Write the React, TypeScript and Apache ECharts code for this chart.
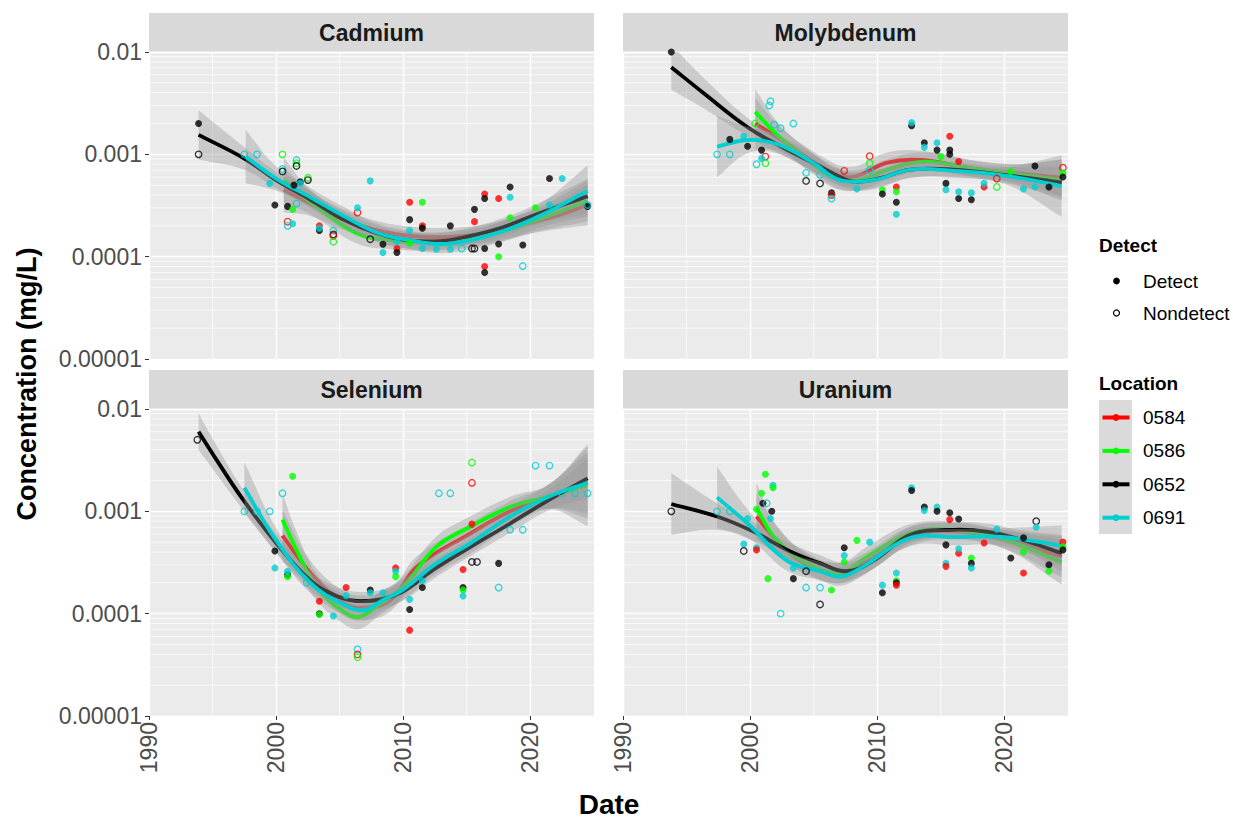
import React, { useEffect, useRef } from "react";
import * as echarts from "echarts";

const FONT = '"Liberation Sans", Arial, Helvetica, sans-serif';
const PANELS = ["Cadmium", "Molybdenum", "Selenium", "Uranium"];
const LOCATIONS = ["0584", "0586", "0652", "0691"];
const LOC_COLORS = ["#FF0000", "#00FF00", "#000000", "#00CED1"];
const DETECT_LABELS = ["Detect", "Nondetect"];
const X_MIN = 1990;
const X_MAX = 2025;
const X_INTERVAL = 10;
const X_TICKS = [1990, 2000, 2010, 2020];
const X_MINOR = [1995, 2005, 2015];
const Y_MIN = 0.00001;
const Y_MAX = 0.01;
const Y_DECADES = [0.00001, 0.0001, 0.001];
const Y_MINOR_MULT = [2, 3, 4, 5, 6, 7, 8, 9];

// points: [year, value (mg/L), location index, detect 1 / nondetect 0]
const cadmiumPoints = [
  [1993.9, 0.002, 2, 1], [1993.9, 0.001, 2, 0], [1997.5, 0.001, 3, 0], [1998.5, 0.001, 3, 0],
  [2000.5, 0.001, 1, 0], [2001.6, 0.00088, 3, 0], [2001.6, 0.00082, 1, 0], [2001.6, 0.00077, 2, 0],
  [2000.5, 0.00072, 3, 0], [2000.5, 0.00068, 2, 0], [2001.9, 0.00054, 2, 1], [2001.9, 0.00052, 3, 1],
  [2002.5, 0.00059, 1, 0], [2002.5, 0.00056, 2, 0], [1999.5, 0.00052, 3, 1], [1999.9, 0.00032, 2, 1],
  [2000.9, 0.00031, 2, 1], [2001.3, 0.00029, 1, 1], [2001.4, 0.0005, 2, 1], [2001.6, 0.00033, 3, 0],
  [2000.9, 0.00022, 0, 0], [2000.9, 0.0002, 3, 0], [2001.3, 0.00021, 3, 1], [2003.4, 0.0002, 0, 1],
  [2003.4, 0.00018, 2, 1], [2003.4, 0.00019, 3, 1], [2004.5, 0.00018, 3, 0], [2004.5, 0.000165, 2, 0],
  [2004.5, 0.00016, 0, 0], [2004.5, 0.00014, 1, 0], [2006.4, 0.00027, 0, 0], [2006.4, 0.0003, 3, 1],
  [2007.4, 0.000148, 2, 0], [2007.4, 0.00055, 3, 1], [2008.4, 0.000132, 2, 1], [2008.4, 0.00011, 3, 1],
  [2009.5, 0.00012, 0, 1], [2009.5, 0.00011, 2, 1], [2009.5, 0.00014, 3, 1], [2010.5, 0.00034, 0, 1],
  [2011.5, 0.00034, 1, 1], [2010.5, 0.00023, 2, 1], [2010.5, 0.00018, 3, 1], [2011.5, 0.0002, 0, 1],
  [2011.5, 0.00019, 2, 1], [2011.5, 0.00012, 3, 1], [2010.5, 0.000135, 1, 1], [2012.6, 0.000118, 3, 1],
  [2013.7, 0.000118, 3, 1], [2013.7, 0.0002, 2, 1], [2014.6, 0.00012, 3, 0], [2015.4, 0.00012, 2, 0],
  [2015.6, 0.00012, 2, 0], [2015.6, 0.00029, 2, 1], [2015.6, 0.00022, 0, 1], [2016.4, 0.00041, 0, 1],
  [2016.4, 0.00037, 2, 1], [2016.4, 0.00008, 0, 1], [2016.4, 0.00007, 2, 1], [2016.4, 0.00012, 2, 1],
  [2017.5, 0.00037, 0, 1], [2017.5, 0.0001, 1, 1], [2017.5, 0.000133, 2, 1], [2018.4, 0.00048, 2, 1],
  [2018.4, 0.00038, 3, 1], [2018.4, 0.00024, 1, 1], [2019.4, 0.00013, 2, 1], [2019.4, 0.000081, 3, 0],
  [2020.4, 0.0003, 1, 1], [2021.5, 0.00032, 3, 1], [2021.5, 0.00058, 2, 1], [2022.5, 0.00058, 3, 1],
  [2024.5, 0.00031, 2, 1], [2024.5, 0.00032, 3, 0],
];

const molybdenumPoints = [
  [1993.8, 0.01, 2, 1], [1997.4, 0.001, 3, 0], [1998.4, 0.001, 3, 0], [1998.4, 0.0014, 2, 1],
  [1999.5, 0.0015, 3, 1], [1999.8, 0.0012, 2, 1], [2000.4, 0.002, 1, 0], [2000.5, 0.0008, 3, 0],
  [2000.9, 0.0011, 2, 1], [2001.2, 0.00095, 0, 0], [2001.2, 0.00082, 1, 0], [2000.9, 0.00091, 3, 1],
  [2001.5, 0.003, 3, 0], [2001.6, 0.0033, 3, 0], [2001.9, 0.00195, 3, 0], [2002.4, 0.0018, 3, 0],
  [2003.4, 0.002, 3, 0], [2004.4, 0.00055, 2, 0], [2004.4, 0.00066, 3, 0], [2005.5, 0.00052, 2, 0],
  [2005.5, 0.00063, 3, 0], [2006.4, 0.00042, 2, 1], [2006.4, 0.0004, 0, 0], [2006.4, 0.00037, 3, 0],
  [2007.4, 0.00069, 0, 0], [2008.4, 0.00046, 3, 1], [2009.4, 0.00096, 0, 0], [2009.4, 0.00082, 1, 0],
  [2009.4, 0.0007, 3, 0], [2010.4, 0.00045, 1, 1], [2010.4, 0.00041, 2, 1], [2011.5, 0.00048, 0, 1],
  [2011.5, 0.00043, 1, 1], [2011.5, 0.00034, 2, 1], [2011.5, 0.00026, 3, 1], [2012.7, 0.0019, 2, 1],
  [2012.7, 0.00204, 3, 1], [2013.7, 0.0013, 2, 1], [2013.7, 0.00117, 3, 1], [2014.7, 0.0013, 3, 1],
  [2014.7, 0.0011, 2, 1], [2015.7, 0.0015, 0, 1], [2015.7, 0.0011, 2, 1], [2015.7, 0.001, 2, 1],
  [2015.0, 0.00095, 1, 1], [2016.4, 0.00085, 0, 1], [2015.4, 0.00052, 2, 1], [2015.4, 0.00045, 3, 1],
  [2016.4, 0.00037, 2, 1], [2016.4, 0.00043, 3, 1], [2017.4, 0.00042, 3, 1], [2017.4, 0.00036, 2, 1],
  [2018.4, 0.00048, 0, 1], [2018.4, 0.00052, 3, 1], [2019.4, 0.00048, 1, 0], [2019.4, 0.00058, 0, 0],
  [2020.5, 0.00068, 1, 1], [2021.5, 0.00046, 3, 1], [2022.4, 0.00077, 2, 1], [2022.4, 0.00048, 3, 1],
  [2023.5, 0.00048, 2, 1], [2024.6, 0.00074, 0, 0], [2024.6, 0.00066, 1, 1], [2024.6, 0.0006, 2, 1],
];

const seleniumPoints = [
  [1993.8, 0.005, 2, 0], [1997.5, 0.001, 3, 0], [1998.5, 0.001, 3, 0], [1999.5, 0.001, 3, 0],
  [2000.5, 0.0015, 3, 0], [2001.3, 0.0022, 1, 1], [1999.9, 0.00041, 2, 1], [1999.9, 0.00028, 3, 1],
  [2000.9, 0.00024, 2, 1], [2000.9, 0.00023, 1, 1], [2000.9, 0.00026, 3, 1], [2002.4, 0.0002, 3, 0],
  [2003.4, 0.000132, 0, 1], [2003.4, 0.0001, 2, 1], [2003.4, 0.000098, 1, 1], [2004.5, 0.000095, 3, 1],
  [2005.5, 0.00018, 0, 1], [2005.5, 0.00015, 3, 1], [2006.4, 0.000045, 3, 0], [2006.4, 0.00004, 0, 0],
  [2006.4, 0.0000376, 1, 0], [2007.4, 0.00017, 2, 1], [2007.4, 0.00016, 3, 1], [2008.4, 0.00016, 3, 1],
  [2009.4, 0.00028, 0, 1], [2009.4, 0.00026, 3, 1], [2009.4, 0.00023, 1, 1], [2010.5, 0.000138, 3, 1],
  [2010.5, 0.00011, 2, 1], [2010.5, 0.000069, 0, 1], [2011.5, 0.00018, 2, 1], [2011.5, 0.00021, 3, 1],
  [2012.8, 0.0015, 3, 0], [2013.7, 0.0015, 3, 0], [2014.7, 0.00027, 0, 1], [2014.7, 0.00018, 2, 1],
  [2014.7, 0.00017, 1, 1], [2014.7, 0.000149, 3, 1], [2015.4, 0.003, 1, 0], [2015.4, 0.0019, 0, 0],
  [2015.4, 0.00075, 0, 1], [2015.4, 0.00032, 2, 0], [2015.8, 0.00032, 2, 0], [2017.5, 0.00031, 2, 1],
  [2017.5, 0.00018, 3, 0], [2018.4, 0.00066, 3, 0], [2019.4, 0.00066, 3, 0], [2020.4, 0.0028, 3, 0],
  [2021.5, 0.0028, 3, 0], [2022.5, 0.0015, 3, 0], [2023.5, 0.0015, 3, 0], [2024.5, 0.0015, 3, 0],
];

const uraniumPoints = [
  [1993.8, 0.001, 2, 0], [1997.4, 0.001, 3, 0], [1998.4, 0.001, 3, 0], [1999.8, 0.00085, 3, 1],
  [1999.5, 0.00048, 3, 1], [1999.5, 0.00041, 2, 0], [2000.5, 0.00044, 3, 1], [2000.5, 0.00042, 0, 1],
  [2001.2, 0.0023, 1, 1], [2001.8, 0.0018, 3, 1], [2001.8, 0.0017, 1, 1], [2000.9, 0.0015, 1, 1],
  [2001.0, 0.0012, 2, 1], [2001.3, 0.0012, 3, 0], [2001.7, 0.001, 2, 1], [2000.5, 0.00105, 1, 1],
  [2001.6, 0.00085, 3, 1], [2001.4, 0.00022, 1, 1], [2003.4, 0.00022, 2, 1], [2003.4, 0.00028, 3, 1],
  [2004.4, 0.00026, 2, 0], [2004.4, 0.00018, 3, 0], [2005.5, 0.000123, 2, 0], [2005.5, 0.00018, 3, 0],
  [2002.4, 0.0001, 3, 0], [2006.4, 0.00017, 1, 1], [2007.4, 0.00044, 2, 1], [2007.4, 0.00037, 3, 1],
  [2007.4, 0.00032, 1, 1], [2008.4, 0.00052, 1, 1], [2009.4, 0.0005, 3, 1], [2010.4, 0.00019, 3, 1],
  [2010.4, 0.00016, 2, 1], [2011.5, 0.00025, 3, 1], [2011.5, 0.00021, 1, 1], [2011.5, 0.0002, 2, 1],
  [2011.5, 0.00019, 0, 1], [2012.7, 0.0017, 3, 1], [2012.7, 0.0016, 2, 1], [2013.7, 0.0011, 2, 1],
  [2013.7, 0.00102, 3, 1], [2014.7, 0.0011, 3, 1], [2014.7, 0.001, 2, 1], [2015.7, 0.00097, 2, 1],
  [2015.7, 0.00083, 0, 1], [2016.4, 0.00084, 2, 1], [2015.4, 0.00047, 2, 1], [2015.4, 0.00031, 3, 1],
  [2015.4, 0.00029, 0, 1], [2016.4, 0.00039, 0, 1], [2016.4, 0.00043, 3, 1], [2017.4, 0.00035, 1, 1],
  [2017.4, 0.00031, 2, 1], [2017.4, 0.00028, 3, 1], [2018.4, 0.00049, 0, 1], [2019.4, 0.00067, 3, 1],
  [2020.5, 0.00035, 2, 1], [2021.5, 0.00025, 0, 1], [2021.5, 0.0004, 1, 1], [2021.5, 0.00055, 2, 1],
  [2022.5, 0.0008, 2, 0], [2022.5, 0.0007, 3, 1], [2023.5, 0.0003, 2, 1], [2023.5, 0.00026, 1, 1],
  [2024.6, 0.0005, 0, 1], [2024.6, 0.00045, 1, 1], [2024.6, 0.00042, 2, 1],
];

// smooth fits: [year, fitted value, half-width of the band in log10 units]
const cadmiumFit0584 = [[2000.6, 0.00045, 0.22], [2002.7, 0.00033, 0.12], [2005.3, 0.00023, 0.1], [2008, 0.00018, 0.09], [2010.5, 0.00016, 0.09], [2013, 0.000155, 0.09], [2016, 0.000165, 0.09], [2019, 0.0002, 0.1], [2022, 0.00025, 0.13], [2024.5, 0.00032, 0.2]];
const cadmiumFit0586 = [[2000.6, 0.00056, 0.22], [2002.7, 0.00034, 0.12], [2006.3, 0.00017, 0.1], [2009, 0.000145, 0.09], [2012, 0.00014, 0.09], [2015, 0.00015, 0.09], [2018, 0.00018, 0.1], [2021, 0.00024, 0.12], [2024.5, 0.00035, 0.2]];
const cadmiumFit0652 = [[1993.9, 0.00155, 0.24], [1997.5, 0.00091, 0.11], [2000, 0.00056, 0.08], [2002.7, 0.00036, 0.08], [2005.3, 0.00023, 0.08], [2007.9, 0.00017, 0.08], [2010.3, 0.000145, 0.08], [2012.9, 0.000142, 0.08], [2015.3, 0.00016, 0.08], [2017.9, 0.000195, 0.09], [2020.5, 0.00026, 0.1], [2024.5, 0.00039, 0.17]];
const cadmiumFit0691 = [[1997.6, 0.00095, 0.26], [2000, 0.00058, 0.12], [2002.7, 0.00038, 0.09], [2005.3, 0.00025, 0.09], [2008, 0.00017, 0.09], [2010.5, 0.000145, 0.09], [2012.9, 0.000133, 0.09], [2015.3, 0.000145, 0.09], [2018, 0.00018, 0.1], [2021, 0.00026, 0.12], [2024.5, 0.00044, 0.25]];

const molybdenumFit0584 = [[2000.4, 0.002, 0.25], [2002.4, 0.0014, 0.12], [2005.6, 0.00076, 0.1], [2007.9, 0.0006, 0.1], [2010.8, 0.00083, 0.1], [2013.4, 0.00088, 0.09], [2017.4, 0.00073, 0.08], [2021, 0.00065, 0.09], [2024.5, 0.00059, 0.18]];
const molybdenumFit0586 = [[2000.4, 0.0026, 0.22], [2002.4, 0.00144, 0.12], [2005, 0.0008, 0.1], [2006.6, 0.00059, 0.1], [2008.6, 0.00056, 0.1], [2010.8, 0.00071, 0.1], [2013.7, 0.00085, 0.09], [2017.4, 0.00073, 0.08], [2021, 0.00064, 0.1], [2024.5, 0.00056, 0.2]];
const molybdenumFit0652 = [[1993.8, 0.0071, 0.22], [1996.3, 0.004, 0.15], [1999.8, 0.00184, 0.09], [2002.4, 0.0012, 0.08], [2005, 0.00082, 0.08], [2007.6, 0.00056, 0.08], [2008.6, 0.00054, 0.08], [2010.3, 0.00059, 0.08], [2012.6, 0.00071, 0.08], [2016, 0.00071, 0.07], [2020, 0.00063, 0.08], [2024.5, 0.00053, 0.15]];
const molybdenumFit0691 = [[1997.4, 0.00119, 0.3], [1999.8, 0.00138, 0.13], [2002.1, 0.00126, 0.09], [2005, 0.00082, 0.09], [2006.6, 0.00059, 0.09], [2007.9, 0.00054, 0.09], [2010, 0.00057, 0.09], [2012.6, 0.00071, 0.08], [2016, 0.00069, 0.07], [2020, 0.00062, 0.08], [2024.5, 0.00049, 0.3]];

const seleniumFit0584 = [[2000.5, 0.00058, 0.25], [2002.7, 0.00025, 0.12], [2005.3, 0.000126, 0.12], [2006.9, 0.000114, 0.12], [2009, 0.000136, 0.11], [2011.1, 0.00029, 0.1], [2015.3, 0.00061, 0.1], [2018.4, 0.001, 0.1], [2021.5, 0.0014, 0.12], [2024.5, 0.0019, 0.35]];
const seleniumFit0586 = [[2000.5, 0.00083, 0.25], [2001.6, 0.00042, 0.18], [2003.2, 0.00018, 0.13], [2005.3, 0.000105, 0.12], [2006.5, 0.000093, 0.12], [2007.9, 0.000118, 0.11], [2010, 0.000184, 0.1], [2012.6, 0.00045, 0.1], [2015.3, 0.00071, 0.1], [2018.4, 0.0011, 0.1], [2021.5, 0.0014, 0.12], [2024.5, 0.0018, 0.4]];
const seleniumFit0652 = [[1993.9, 0.006, 0.18], [1995.3, 0.0032, 0.14], [1997.4, 0.0013, 0.1], [2000, 0.00049, 0.09], [2002.7, 0.00021, 0.09], [2004.8, 0.000148, 0.09], [2006.3, 0.000133, 0.09], [2008.2, 0.000138, 0.09], [2010, 0.000165, 0.09], [2012.4, 0.00027, 0.09], [2015.3, 0.00045, 0.09], [2018.4, 0.00076, 0.09], [2021.5, 0.0013, 0.1], [2024.5, 0.0021, 0.2]];
const seleniumFit0691 = [[1997.5, 0.0017, 0.25], [2000, 0.00052, 0.12], [2002.7, 0.0002, 0.1], [2005.3, 0.000123, 0.1], [2006.9, 0.000108, 0.1], [2008.4, 0.000136, 0.1], [2010, 0.000172, 0.1], [2012.6, 0.00031, 0.1], [2015.3, 0.00049, 0.1], [2018.4, 0.00089, 0.1], [2021.5, 0.0014, 0.12], [2024.5, 0.0019, 0.3]];

const uraniumFit0584 = [[2000.5, 0.00089, 0.22], [2002.1, 0.00052, 0.14], [2004.5, 0.0003, 0.1], [2007.1, 0.00025, 0.1], [2009.2, 0.00032, 0.1], [2012.6, 0.00057, 0.09], [2016, 0.00064, 0.08], [2020, 0.00053, 0.09], [2024.5, 0.00036, 0.2]];
const uraniumFit0586 = [[2000.5, 0.00107, 0.25], [2002.1, 0.00052, 0.14], [2004.5, 0.00031, 0.1], [2007.1, 0.00025, 0.1], [2009.2, 0.00036, 0.1], [2012.6, 0.00061, 0.09], [2016, 0.00066, 0.08], [2020, 0.00053, 0.09], [2024.5, 0.00032, 0.22]];
const uraniumFit0652 = [[1993.8, 0.00118, 0.3], [1997.4, 0.00089, 0.13], [2000.3, 0.00063, 0.09], [2002.9, 0.00042, 0.08], [2005.5, 0.00031, 0.08], [2007.6, 0.00026, 0.08], [2009.7, 0.00033, 0.08], [2012.6, 0.00059, 0.08], [2016, 0.00066, 0.07], [2018.7, 0.00063, 0.08], [2021.3, 0.00053, 0.09], [2024.5, 0.00039, 0.18]];
const uraniumFit0691 = [[1997.4, 0.00137, 0.3], [1999.8, 0.00076, 0.14], [2002.9, 0.00033, 0.1], [2005.5, 0.00026, 0.09], [2007.1, 0.00023, 0.09], [2008.7, 0.00028, 0.09], [2012.6, 0.00055, 0.08], [2016, 0.00056, 0.08], [2020, 0.00056, 0.09], [2024.5, 0.00046, 0.2]];

const PANEL_POINTS = [cadmiumPoints, molybdenumPoints, seleniumPoints, uraniumPoints];
const PANEL_FITS = [
  [cadmiumFit0584, cadmiumFit0586, cadmiumFit0652, cadmiumFit0691],
  [molybdenumFit0584, molybdenumFit0586, molybdenumFit0652, molybdenumFit0691],
  [seleniumFit0584, seleniumFit0586, seleniumFit0652, seleniumFit0691],
  [uraniumFit0584, uraniumFit0586, uraniumFit0652, uraniumFit0691],
];

// layout
const PANEL_W = 445;
const PANEL_H = 307;
const PANEL_POS = [
  [149, 52],
  [623, 52],
  [149, 409],
  [623, 409],
];
const STRIP_H = 39;
const BAND_FILL = "rgba(153,153,153,0.4)";
const SMOOTH = 0.4;

function logLabel(v: number) {
  const e = Math.round(Math.log10(v));
  return e < 0 ? Math.pow(10, e).toFixed(-e) : String(Math.pow(10, e));
}

// smooth path through pixel points (same scheme as ECharts' smoothed lines)
function smoothSegments(pts: number[][], s: number, start: "M" | "L") {
  const n = pts.length;
  const cpIn: number[][] = [];
  const cpOut: number[][] = [];
  for (let i = 0; i < n; i++) {
    const p = pts[i];
    const prev = pts[i - 1] || p;
    const next = pts[i + 1] || p;
    const vx = next[0] - prev[0];
    const vy = next[1] - prev[1];
    const dPrev = Math.hypot(p[0] - prev[0], p[1] - prev[1]);
    const dNext = Math.hypot(p[0] - next[0], p[1] - next[1]);
    const tot = dPrev + dNext || 1;
    cpIn.push([p[0] - (vx * s * dPrev) / tot, p[1] - (vy * s * dPrev) / tot]);
    cpOut.push([p[0] + (vx * s * dNext) / tot, p[1] + (vy * s * dNext) / tot]);
  }
  let d = `${start}${pts[0][0]},${pts[0][1]}`;
  for (let i = 0; i < n - 1; i++) {
    d += `C${cpOut[i][0]},${cpOut[i][1]} ${cpIn[i + 1][0]},${cpIn[i + 1][1]} ${pts[i + 1][0]},${pts[i + 1][1]}`;
  }
  return d;
}

function buildOption() {
  const grids: any[] = [];
  const xAxes: any[] = [];
  const yAxes: any[] = [];
  const series: any[] = [];
  const graphics: any[] = [];

  const minorData: any[] = [];
  Y_DECADES.forEach((d) => Y_MINOR_MULT.forEach((m) => minorData.push([X_MIN, d * m, 0])));
  X_MINOR.forEach((x) => minorData.push([x, Y_MIN, 1]));

  PANELS.forEach((name, g) => {
    const [left, top] = PANEL_POS[g];
    const bottomRow = g >= 2;
    const leftCol = g % 2 === 0;
    grids.push({
      left, top, width: PANEL_W, height: PANEL_H,
      show: true, backgroundColor: "#EBEBEB", borderWidth: 0, containLabel: false,
    });
    xAxes.push({
      type: "value", gridIndex: g, min: X_MIN, max: X_MAX, interval: X_INTERVAL,
      axisLine: { show: false },
      axisTick: { show: bottomRow, length: 4, lineStyle: { color: "#333333", width: 1 }, customValues: X_TICKS },
      axisLabel: {
        show: bottomRow, rotate: 90, fontSize: 23, color: "#4D4D4D", fontFamily: FONT, margin: 6,
        customValues: X_TICKS, formatter: (v: number) => String(v),
      },
      splitLine: { show: true, lineStyle: { color: "#FFFFFF", width: 1.4 } },
    });
    yAxes.push({
      type: "log", logBase: 10, gridIndex: g, min: Y_MIN, max: Y_MAX,
      axisLine: { show: false },
      axisTick: { show: leftCol, length: 4, lineStyle: { color: "#333333", width: 1 } },
      axisLabel: { show: leftCol, fontSize: 23, color: "#4D4D4D", fontFamily: FONT, margin: 7, formatter: logLabel },
      splitLine: { show: true, lineStyle: { color: "#FFFFFF", width: 1.4 } },
    });

    // minor grid lines
    series.push({
      type: "custom", xAxisIndex: g, yAxisIndex: g, silent: true,
      data: minorData, encode: { x: 0, y: 1 },
      renderItem: (params: any, api: any) => {
        const kind = api.value(2);
        let p1, p2;
        if (kind === 0) {
          p1 = api.coord([X_MIN, api.value(1)]);
          p2 = api.coord([X_MAX, api.value(1)]);
        } else {
          p1 = api.coord([api.value(0), Y_MIN]);
          p2 = api.coord([api.value(0), Y_MAX]);
        }
        return {
          type: "line",
          shape: { x1: p1[0], y1: p1[1], x2: p2[0], y2: p2[1] },
          style: { stroke: "#FFFFFF", lineWidth: 0.7 },
          silent: true,
        };
      },
    });

    // points
    series.push({
      type: "scatter", xAxisIndex: g, yAxisIndex: g, silent: true,
      data: PANEL_POINTS[g].map((p) => {
        const c = LOC_COLORS[p[2]];
        return p[3]
          ? { value: [p[0], p[1]], symbolSize: 7, itemStyle: { color: c, borderWidth: 0 } }
          : { value: [p[0], p[1]], symbolSize: 6.5, itemStyle: { color: "rgba(0,0,0,0)", borderColor: c, borderWidth: 1.3 } };
      }),
    });

    // smooth band + line per location (band drawn then line, in location order)
    PANEL_FITS[g].forEach((fit, l) => {
      series.push({
        type: "custom", xAxisIndex: g, yAxisIndex: g, silent: true,
        data: [[fit[0][0], fit[0][1]]], encode: { x: 0, y: 1 },
        renderItem: (params: any, api: any) => {
          const upper = fit.map((k) => api.coord([k[0], k[1] * Math.pow(10, k[2])]));
          const lower = fit.map((k) => api.coord([k[0], k[1] / Math.pow(10, k[2])])).reverse();
          const mid = fit.map((k) => api.coord([k[0], k[1]]));
          const bandPath = smoothSegments(upper, SMOOTH, "M") + smoothSegments(lower, SMOOTH, "L") + "Z";
          const linePath = smoothSegments(mid, SMOOTH, "M");
          const cs = params.coordSys;
          return {
            type: "group",
            clipPath: { type: "rect", shape: { x: cs.x, y: cs.y, width: cs.width, height: cs.height } },
            children: [
              { type: "path", shape: { pathData: bandPath }, style: { fill: BAND_FILL, stroke: "none" } },
              {
                type: "path", shape: { pathData: linePath },
                style: { fill: "none", stroke: LOC_COLORS[l], lineWidth: 3.8, lineJoin: "round" },
              },
            ],
          };
        },
      });
    });

    // strip
    graphics.push({
      type: "rect", silent: true,
      shape: { x: left, y: top - STRIP_H, width: PANEL_W, height: STRIP_H },
      style: { fill: "#D9D9D9" },
    });
    graphics.push({
      type: "text", silent: true, x: left + PANEL_W / 2, y: top - STRIP_H / 2,
      style: { text: name, align: "center", verticalAlign: "middle", fill: "#1A1A1A", font: "bold 23px " + FONT },
    });
  });

  // axis titles
  graphics.push({
    type: "text", silent: true, x: 27, y: 384, rotation: Math.PI / 2,
    style: { text: "Concentration (mg/L)", align: "center", verticalAlign: "middle", fill: "#000000", font: "bold 27px " + FONT },
  });
  graphics.push({
    type: "text", silent: true, x: 609, y: 804,
    style: { text: "Date", align: "center", verticalAlign: "middle", fill: "#000000", font: "bold 28px " + FONT },
  });

  // legend: Detect
  graphics.push({
    type: "text", silent: true, x: 1099, y: 245,
    style: { text: "Detect", align: "left", verticalAlign: "middle", fill: "#000000", font: "bold 19px " + FONT },
  });
  DETECT_LABELS.forEach((lab, i) => {
    const y = 281 + i * 32;
    graphics.push({
      type: "circle", silent: true, shape: { cx: 1116.5, cy: y, r: i === 0 ? 3.4 : 3 },
      style: i === 0 ? { fill: "#000000" } : { fill: "none", stroke: "#000000", lineWidth: 1.2 },
    });
    graphics.push({
      type: "text", silent: true, x: 1143, y,
      style: { text: lab, align: "left", verticalAlign: "middle", fill: "#000000", font: "19px " + FONT },
    });
  });

  // legend: Location
  graphics.push({
    type: "text", silent: true, x: 1099, y: 383,
    style: { text: "Location", align: "left", verticalAlign: "middle", fill: "#000000", font: "bold 19px " + FONT },
  });
  graphics.push({
    type: "rect", silent: true, shape: { x: 1099, y: 400, width: 33, height: 134 },
    style: { fill: "#DADADA" },
  });
  LOCATIONS.forEach((loc, i) => {
    const y = 417.5 + i * 33.4;
    graphics.push({
      type: "line", silent: true, shape: { x1: 1102.5, y1: y, x2: 1129.5, y2: y },
      style: { stroke: LOC_COLORS[i], lineWidth: 4 },
    });
    graphics.push({
      type: "circle", silent: true, shape: { cx: 1116, cy: y, r: 3.4 },
      style: { fill: LOC_COLORS[i] },
    });
    graphics.push({
      type: "text", silent: true, x: 1143, y,
      style: { text: loc, align: "left", verticalAlign: "middle", fill: "#000000", font: "19px " + FONT },
    });
  });

  return {
    animation: false,
    backgroundColor: "#FFFFFF",
    textStyle: { fontFamily: FONT },
    grid: grids,
    xAxis: xAxes,
    yAxis: yAxes,
    series,
    graphic: graphics,
  };
}

export default function App() {
  const ref = useRef<HTMLDivElement>(null);
  useEffect(() => {
    if (!ref.current) return;
    const chart = echarts.init(ref.current, undefined, { renderer: "svg" });
    chart.setOption(buildOption() as any);
    return () => chart.dispose();
  }, []);
  return (
    <div
      ref={ref}
      style={{ position: "absolute", left: 0, top: 0, width: 1233, height: 821, background: "#FFFFFF" }}
    />
  );
}
